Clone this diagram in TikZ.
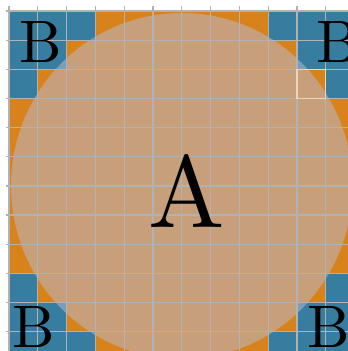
\documentclass[tikz,border=0pt]{standalone}
\usepackage{fontspec}
\setmainfont{lmroman10-regular}[Extension=.otf]
\definecolor{myblue}{RGB}{55,125,160}
\definecolor{myorange}{RGB}{216,130,28}
\definecolor{circfill}{RGB}{186,186,204}
\definecolor{gridgray}{RGB}{178,178,178}
\definecolor{hilitecol}{RGB}{236,214,188}
\tikzset{
  cellblue/.style={fill=myblue},
  gridline/.style={draw=gridgray,line width=1.2pt},
  hilite/.style={draw=hilitecol,line width=1.2pt},
  disc/.style={fill=circfill,fill opacity=0.54},
  biglbl/.style={inner sep=0pt,text=black,font=\fontsize{102}{102}\selectfont},
  cornerlbl/.style={inner sep=0pt,text=black,font=\fontsize{60}{60}\selectfont}
}
\begin{document}
\begin{tikzpicture}[x=1pt,y=-1pt]
\useasboundingbox (0,0) rectangle (348,351);
\clip (0,0) rectangle (348,351);
\pgfmathsetmacro{\cx}{28.79}
\pgfmathsetmacro{\cy}{29.15}
% orange board
\fill[myorange] (9,11) rectangle ({9+12*\cx},{11+12*\cy});
% blue corner cells
\foreach \i/\j in {0/0,1/0,2/0,0/1,1/1,0/2,
                   9/0,10/0,11/0,10/1,11/1,11/2,
                   0/9,0/10,1/10,0/11,1/11,2/11,
                   11/9,10/10,11/10,9/11,10/11,11/11}
  \fill[cellblue] ({9+\i*\cx},{11+\j*\cy}) rectangle ({9+(\i+1)*\cx},{11+(\j+1)*\cy});
% disc
\fill[disc] (181.7,185.9) ellipse [x radius=170.7, y radius=172.9];
% grid
\foreach \k in {0,...,12}{
  \draw[gridline] ({9+\k*\cx},6) -- ({9+\k*\cx},365);
  \draw[gridline] (6,{11+\k*\cy}) -- (365,{11+\k*\cy});
}
\draw[hilite] ({9+10*\cx},{11+2*\cy}) rectangle ({9+11*\cx},{11+3*\cy});
% labels
\node[biglbl] (A) at (186.7,190.5) {A};
\node[cornerlbl] (Btl) at (40.3,42.5) {B};
\node[cornerlbl] (Btr) at (337.6,42.2) {B};
\node[cornerlbl] (Bbl) at (34.2,327.4) {B};
\node[cornerlbl] (Bbr) at (329.2,326.9) {B};
\end{tikzpicture}
\end{document}
